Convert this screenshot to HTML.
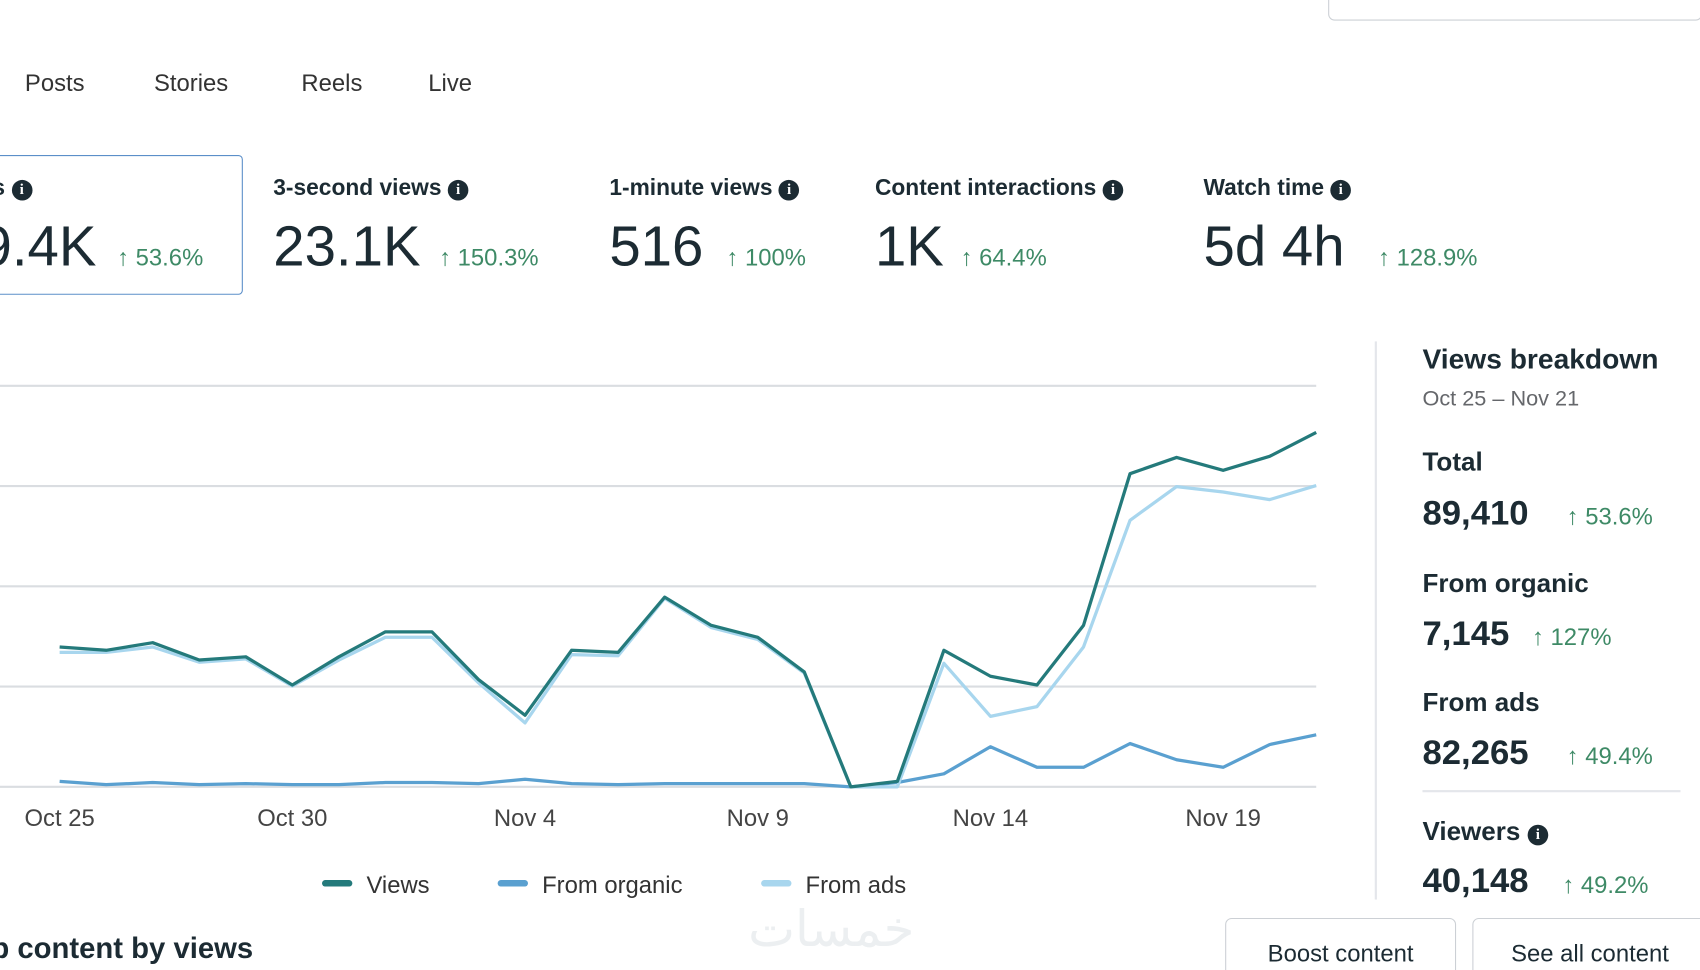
<!DOCTYPE html>
<html><head><meta charset="utf-8">
<style>
html,body{margin:0;padding:0;background:#fff;overflow:hidden;}
body{width:1700px;height:970px;font-family:"Liberation Sans","Noto Sans CJK SC",sans-serif;color:#1c2b33;}
#wrap{position:absolute;left:0;top:0;width:1568px;height:895px;transform:scale(1.0842,1.0838);transform-origin:0 0;overflow:hidden;}
.a{position:absolute;white-space:nowrap;}
.tab{font-size:22px;color:#333;top:64px;}
.lbl{font-size:21px;font-weight:bold;top:162px;color:#1c2b33;}
.val{font-size:52px;top:198px;color:#1c2b33;}
.pct{font-size:22px;color:#3e8a66;top:225px;}
.info{display:inline-block;width:19px;height:19px;border-radius:50%;background:#1c2b33;color:#fff;font-size:14px;line-height:19px;text-align:center;font-weight:bold;vertical-align:1px;font-family:"Liberation Serif",serif;}
.rh{font-size:24px;font-weight:bold;}
.rv{font-size:32px;font-weight:bold;}
.rp{font-size:22px;color:#3e8a66;}
.btn{position:absolute;border:1px solid #ccd0d5;border-radius:6px;font-size:22px;text-align:center;line-height:64px;height:70px;}
</style></head><body>
<div id="wrap">
<div class="a" style="left:1225px;top:-20px;width:343px;height:37px;border:1px solid #ccd0d5;border-radius:6px;"></div>
<div class="a tab" style="left:23px">Posts</div>
<div class="a tab" style="left:142px">Stories</div>
<div class="a tab" style="left:278px">Reels</div>
<div class="a tab" style="left:395px">Live</div>

<div class="a" style="left:-10px;top:143px;width:232px;height:127px;border:1.5px solid #5b8fc9;border-radius:4px;"></div>
<div class="a lbl" style="left:-7px">s <span class="info">i</span></div>
<div class="a val" style="left:-18px">9.4K</div>
<div class="a pct" style="left:108px">↑ 53.6%</div>

<div class="a lbl" style="left:252px">3-second views <span class="info">i</span></div>
<div class="a val" style="left:252px">23.1K</div>
<div class="a pct" style="left:405px">↑ 150.3%</div>

<div class="a lbl" style="left:562px">1-minute views <span class="info">i</span></div>
<div class="a val" style="left:562px">516</div>
<div class="a pct" style="left:670px">↑ 100%</div>

<div class="a lbl" style="left:807px">Content interactions <span class="info">i</span></div>
<div class="a val" style="left:807px">1K</div>
<div class="a pct" style="left:886px">↑ 64.4%</div>

<div class="a lbl" style="left:1110px">Watch time <span class="info">i</span></div>
<div class="a val" style="left:1110px">5d 4h</div>
<div class="a pct" style="left:1271px">↑ 128.9%</div>

<svg class="a" style="left:0;top:0" width="1260" height="840" id="chart"></svg>

<div class="a" style="left:1268px;top:315px;width:2px;height:515px;background:#e4e6eb"></div>
<div class="a rh" style="left:1312px;top:316px;font-size:26px">Views breakdown</div>
<div class="a" style="left:1312px;top:357px;font-size:20px;color:#65676b">Oct 25 – Nov 21</div>
<div class="a rh" style="left:1312px;top:413px">Total</div>
<div class="a rv" style="left:1312px;top:455px">89,410</div>
<div class="a rp" style="left:1445px;top:464px">↑ 53.6%</div>
<div class="a rh" style="left:1312px;top:525px">From organic</div>
<div class="a rv" style="left:1312px;top:566px">7,145</div>
<div class="a rp" style="left:1413px;top:575px">↑ 127%</div>
<div class="a rh" style="left:1312px;top:635px">From ads</div>
<div class="a rv" style="left:1312px;top:676px">82,265</div>
<div class="a rp" style="left:1445px;top:685px">↑ 49.4%</div>
<div class="a" style="left:1312px;top:729px;width:238px;height:2px;background:#e4e6eb"></div>
<div class="a rh" style="left:1312px;top:754px">Viewers <span class="info">i</span></div>
<div class="a rv" style="left:1312px;top:794px">40,148</div>
<div class="a rp" style="left:1441px;top:804px">↑ 49.2%</div>

<div class="a" style="left:-8px;top:860px;font-size:27px;font-weight:bold">p content by views</div>
<div class="a" style="left:690px;top:830px;font-size:46px;color:#eceff1;font-family:'DejaVu Sans',sans-serif">خمسات</div>
<div class="btn" style="left:1130px;top:847px;width:211px">Boost content</div>
<div class="btn" style="left:1358px;top:847px;width:215px">See all content</div>
</div>
<script>
const categories = ["Oct 25","Oct 26","Oct 27","Oct 28","Oct 29","Oct 30","Oct 31","Nov 1","Nov 2","Nov 3","Nov 4","Nov 5","Nov 6","Nov 7","Nov 8","Nov 9","Nov 10","Nov 11","Nov 12","Nov 13","Nov 14","Nov 15","Nov 16","Nov 17","Nov 18","Nov 19","Nov 20","Nov 21"];
const viewsSeries = [1395,1362,1438,1265,1297,1016,1297,1546,1546,1070,714,1362,1341,1892,1611,1492,1146,0,54,1362,1103,1016,1611,3124,3286,3157,3297,3535];
const adsSeries = [1341,1341,1395,1243,1276,1005,1265,1492,1492,1038,638,1319,1308,1881,1589,1470,1135,0,0,1232,703,800,1395,2659,2995,2941,2865,3005];
const organicSeries = [54,22,43,22,32,22,22,43,43,32,76,32,22,32,32,32,32,0,43,130,400,195,195,432,270,195,422,519];
const gridValues = [0,1000,2000,3000,4000];
const tickLabels = ["Oct 25","Oct 30","Nov 4","Nov 9","Nov 14","Nov 19"];
const tickIndex = [0,5,10,15,20,25];

const NS="http://www.w3.org/2000/svg";
const svg=document.getElementById('chart');
const x0=55,x1=1214,y0=726,yTop=356;
const xs=i=>x0+(x1-x0)*i/(categories.length-1);
const ys=v=>y0-(y0-yTop)*v/4000;
function mk(tag,attrs){const e=document.createElementNS(NS,tag);for(const k in attrs)e.setAttribute(k,attrs[k]);svg.appendChild(e);return e;}
gridValues.forEach(v=>{
  const l=mk('line',{x1:0,x2:1214,y1:ys(v),y2:ys(v),stroke:'#dadde1','stroke-width':2});
  
  
});
tickIndex.forEach((ti,k)=>{
  const t=mk('text',{x:xs(ti),y:762,'text-anchor':'middle','font-size':22,fill:'#444','font-family':'Liberation Sans, sans-serif'});
  t.textContent=tickLabels[k];
  
  
});
function line(data,color,name){
  const p=mk('polyline',{points:data.map((v,i)=>xs(i)+','+ys(v)).join(' '),fill:'none',stroke:color,'stroke-width':3,'stroke-linejoin':'round'});
  
  
}
line(organicSeries,'#5aa0d0','organic-line');
line(adsSeries,'#a8d6ee','ads-line');
line(viewsSeries,'#247a7b','views-line');
const legend=[["Views","#247a7b",297],["From organic","#5aa0d0",459],["From ads","#a8d6ee",702]];
legend.forEach(l=>{
  const r=mk('rect',{x:l[2],y:812,width:28,height:6,rx:3,fill:l[1]});
  
  
  const t=mk('text',{x:l[2]+41,y:824,'font-size':22,fill:'#333','font-family':'Liberation Sans, sans-serif'});
  t.textContent=l[0];
  
  
});
</script>
</body></html>
